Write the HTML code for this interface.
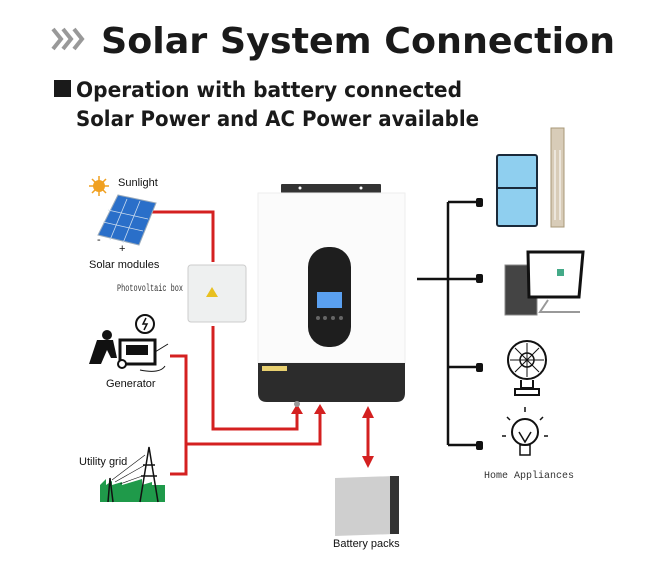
<!DOCTYPE html>
<html><head><meta charset="utf-8"><style>
html,body{margin:0;padding:0;background:#fff;width:650px;height:566px;overflow:hidden}
svg{display:block}
.t{font-family:"DejaVu Sans","Liberation Sans",sans-serif;font-weight:bold;fill:#1a1a1a}
.s{font-family:"Liberation Sans",sans-serif;font-size:11px;fill:#111}
.m{font-family:"Liberation Mono",monospace;font-size:10px;fill:#333}
</style></head><body>
<svg width="650" height="566" viewBox="0 0 650 566" xmlns="http://www.w3.org/2000/svg">
<defs>
<marker id="ar" viewBox="0 0 10 10" refX="5" refY="5" markerWidth="4" markerHeight="4" orient="auto-start-reverse"><path d="M0,0L10,5L0,10z" fill="#d42020"/></marker>
</defs>
<path d="M53,29l8,10l-8,10" fill="none" stroke="#999" stroke-width="4"/>
<path d="M63,29l8,10l-8,10" fill="none" stroke="#999" stroke-width="4"/>
<path d="M74,29l8,10l-8,10" fill="none" stroke="#999" stroke-width="4"/>
<text x="101" y="53" class="t" font-size="36" textLength="514" lengthAdjust="spacingAndGlyphs">Solar System Connection</text>
<rect x="54" y="80" width="17" height="17" fill="#1a1a1a"/>
<text x="76" y="97" class="t" font-size="21" textLength="386" lengthAdjust="spacingAndGlyphs">Operation with battery connected</text>
<text x="76" y="126" class="t" font-size="21" textLength="403" lengthAdjust="spacingAndGlyphs">Solar Power and AC Power available</text>

<g fill="none" stroke="#d42020" stroke-width="3">
<path d="M148,212H213V262"/>
<path d="M213,326V429H297V412"/>
<path d="M170,356H186V474H170"/>
<path d="M186,444H320V412"/>
<path d="M368,412V462" marker-start="url(#ar)" marker-end="url(#ar)"/>
</g>
<path d="M291,414L297,404L303,414z" fill="#d42020"/>
<path d="M314,414L320,404L326,414z" fill="#d42020"/>

<circle cx="99" cy="186" r="6" fill="#f0a020"/>
<g stroke="#f0a020" stroke-width="1.5"><path d="M99,176v20M89,186h20M92,179l14,14M106,179l-14,14"/></g>
<text x="118" y="186" class="s">Sunlight</text>
<path d="M118,195L156,203L139,245L98,235z" fill="#2a6fc9" stroke="#9ab" stroke-width="1"/>
<g stroke="#cde" stroke-width="0.8"><path d="M108,210L148,219M103,222L143,231M127,199L110,240M140,201L123,243"/></g>
<text x="97" y="243" class="s">-</text><text x="119" y="252" class="s" font-size="8">+</text>
<text x="89" y="268" class="s">Solar modules</text>

<rect x="188" y="265" width="58" height="57" rx="3" fill="#eef0f0" stroke="#ccc"/>
<polygon points="212,287 218,297 206,297" fill="#e8c020"/>
<text x="117" y="291" class="m" font-size="7.5" textLength="66" lengthAdjust="spacingAndGlyphs">Photovoltaic box</text>

<circle cx="145" cy="324" r="9" fill="#fff" stroke="#111" stroke-width="2"/>
<path d="M146,318l-3,6h4l-3,6" stroke="#111" stroke-width="1.5" fill="none"/>
<circle cx="107" cy="335" r="5" fill="#111"/>
<path d="M97,340h16l4,18h-6l-4-8l-6,14h-12z" fill="#111"/>
<rect x="120" y="340" width="35" height="24" fill="#fff" stroke="#111" stroke-width="3"/>
<rect x="126" y="345" width="22" height="10" fill="#111"/>
<circle cx="122" cy="364" r="4" fill="#fff" stroke="#111" stroke-width="2"/>
<path d="M155,352l13-8M140,370q20,4 25-4" stroke="#111" fill="none"/>
<text x="106" y="387" class="s" font-size="10">Generator</text>

<text x="79" y="465" class="s">Utility grid</text>
<rect x="100" y="485" width="65" height="17" fill="#1f9a4a"/>
<path d="M100,485l6-6v6l6-4v4l10-3v3l20-6v6l10-3v3" fill="#1f9a4a"/>
<g stroke="#111" stroke-width="1.5" fill="none"><path d="M140,502L149,447L158,502M143,465h12M141,476h16M108,502L110,478L113,502"/>
<path d="M112,480L145,455M115,482L145,465M120,484L145,475" stroke-width="0.6"/></g>

<rect x="281" y="184" width="100" height="9" rx="1" fill="#333"/>
<circle cx="300" cy="188" r="1.5" fill="#fff"/><circle cx="361" cy="188" r="1.5" fill="#fff"/>
<rect x="258" y="193" width="147" height="170" fill="#fbfbfb" stroke="#eee"/>
<path d="M258,363H405V393Q405,402 396,402H267Q258,402 258,393z" fill="#2c2c2c"/>
<rect x="262" y="366" width="25" height="5" fill="#e8d070"/>
<rect x="308" y="247" width="43" height="100" rx="20" fill="#1e1e1e"/>
<rect x="317" y="292" width="25" height="16" fill="#5aa0f0"/>
<g fill="#666"><circle cx="318" cy="318" r="2"/><circle cx="325" cy="318" r="2"/><circle cx="333" cy="318" r="2"/><circle cx="341" cy="318" r="2"/></g>
<circle cx="297" cy="404" r="3" fill="#999"/>

<path d="M335,478l60-2v58l-60,2z" fill="#cfcfcf"/>
<rect x="390" y="476" width="9" height="58" fill="#333"/>
<text x="333" y="547" class="s">Battery packs</text>

<g stroke="#111" stroke-width="2.5" fill="none">
<path d="M417,279H448M448,202V445M448,202H478M448,279H478M448,367H478M448,445H478"/>
</g>
<g fill="#111">
<rect x="476" y="198" width="7" height="9" rx="2"/><rect x="476" y="274" width="7" height="9" rx="2"/>
<rect x="476" y="363" width="7" height="9" rx="2"/><rect x="476" y="441" width="7" height="9" rx="2"/>
</g>
<rect x="497" y="155" width="40" height="71" rx="2" fill="#8fcfef" stroke="#1a2a3a" stroke-width="2"/>
<path d="M497,188h40" stroke="#1a2a3a" stroke-width="2"/>
<rect x="551" y="128" width="13" height="99" fill="#d8ccb8" stroke="#a89878"/>
<path d="M555,150v70M560,150v70" stroke="#fff"/>
<rect x="505" y="265" width="32" height="50" fill="#444" stroke="#888"/>
<path d="M528,252h55l-4,45h-50z" fill="#fff" stroke="#111" stroke-width="3"/>
<path d="M548,300l-8,12h40" stroke="#999" fill="none" stroke-width="2"/>
<rect x="557" y="269" width="7" height="7" fill="#4a8"/>
<circle cx="527" cy="360" r="19" fill="none" stroke="#111" stroke-width="2"/>
<circle cx="527" cy="360" r="7" fill="none" stroke="#111" stroke-width="1.5"/>
<path d="M510,360h34M527,343v34M515,348l24,24M539,348l-24,24" stroke="#111" stroke-width="1"/>
<path d="M521,380v8h12v-8M515,395h24v-6h-24z" fill="none" stroke="#111" stroke-width="2"/>
<circle cx="525" cy="432" r="13" fill="none" stroke="#111" stroke-width="2"/>
<path d="M519,432l6,10l6-10M520,445h10v10h-10z" fill="none" stroke="#111" stroke-width="1.5"/>
<path d="M525,412v-5M510,420l-3-3M540,420l3-3M506,436h-4M544,436h4" stroke="#111" stroke-width="1.5"/>
<text x="484" y="478" class="m">Home Appliances</text>
</svg>
</body></html>
